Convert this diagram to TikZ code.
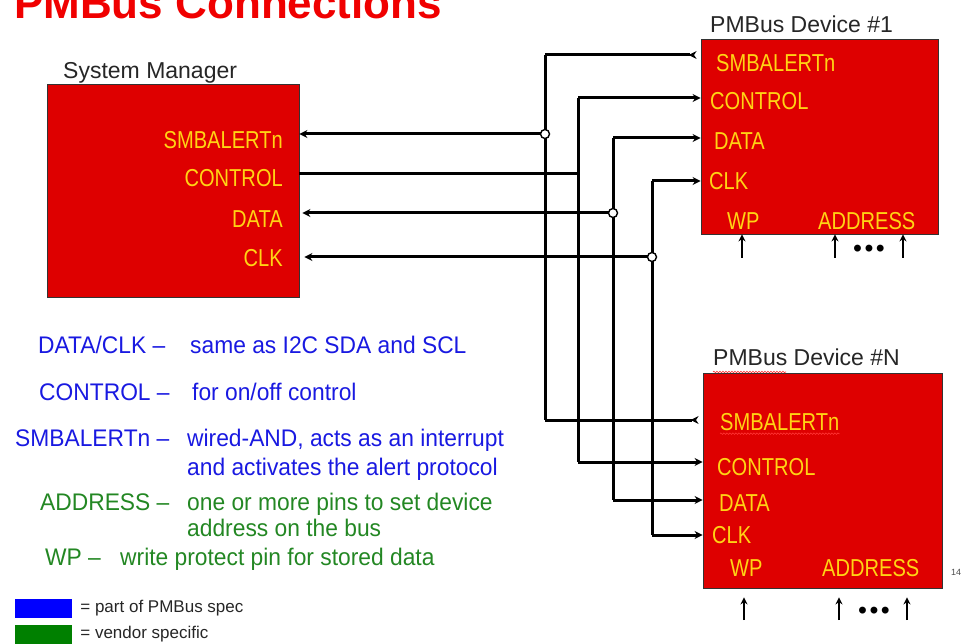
\documentclass[tikz,border=0pt]{standalone}
\usepackage{fontspec}
\setmainfont{Liberation Sans}
\newfontfamily\pinfont[FakeStretch=0.82]{Liberation Sans}
\newfontfamily\legfont[FakeStretch=0.95]{Liberation Sans}
\usetikzlibrary{arrows.meta,positioning,decorations.pathmorphing}

\definecolor{boxred}{RGB}{222,0,0}
\definecolor{titlered}{RGB}{240,0,0}
\definecolor{pinyellow}{RGB}{255,212,20}
\definecolor{specblue}{RGB}{25,25,225}
\definecolor{vendgreen}{RGB}{35,135,35}

\tikzset{
  chip/.style={draw=black!80, line width=0.8pt, fill=boxred, inner sep=0pt},
  heading/.style={text=titlered, font=\bfseries\fontsize{44}{50}\selectfont, inner sep=0pt},
  caption/.style={text=black!85, font=\fontsize{23}{26}\selectfont, inner sep=0pt},
  pinlabel/.style={text=pinyellow, font=\pinfont\fontsize{24.5}{28}\selectfont, inner sep=0pt, text height=17pt, text depth=0pt},
  legtext/.style={font=\legfont\fontsize{24}{28}\selectfont, inner sep=0pt, text height=17pt, text depth=0pt, anchor=west},
  keytext/.style={font=\fontsize{17}{20}\selectfont, text=black!85, inner sep=0pt},
  wire/.style={line width=3pt},
  outtip/.style={-{Stealth[reversed,length=8pt,width=8pt]}},
  pinarrow/.style={line width=2.5pt, -{Stealth[length=7pt,width=7pt]}},
  jdot/.style={circle, draw, line width=1.4pt, fill=white, inner sep=0pt, minimum size=9pt},
  typo/.style={red!80, line width=0.6pt, decorate, decoration={snake, amplitude=0.8pt, segment length=3pt}}
}

\begin{document}
\begin{tikzpicture}[x=1pt,y=-1pt,>={Stealth[length=8pt,width=8pt]}]
\useasboundingbox (0,0) rectangle (964,644);

\node[heading, anchor=base west] (title) at (14,19) {PMBus Connections};

% chips
\node[chip, minimum width=252pt, minimum height=213pt] (sm) at (173,190.5) {};
\node[chip, minimum width=237pt, minimum height=195pt] (dev1) at (819.5,136.5) {};
\node[chip, minimum width=239pt, minimum height=215pt] (devN) at (822.5,480.5) {};

\node[caption, anchor=base west] (smlab) at (63,79) {System Manager};
\node[caption, anchor=base west] (d1lab) at (710,33) {PMBus Device \#1};
\node[caption, anchor=base west] (dNlab) at (713,366) {PMBus Device \#N};

% system manager pins
\node[pinlabel, anchor=east] (smA) at (283,140) {SMBALERTn};
\node[pinlabel, anchor=east] (smC) at (283,178) {CONTROL};
\node[pinlabel, anchor=east] (smD) at (283,219) {DATA};
\node[pinlabel, anchor=east] (smK) at (283,258) {CLK};

% device #1 pins
\node[pinlabel, anchor=west] (d1A) at (716,63) {SMBALERTn};
\node[pinlabel, anchor=west] (d1C) at (710,101) {CONTROL};
\node[pinlabel, anchor=west] (d1D) at (714,141) {DATA};
\node[pinlabel, anchor=west] (d1K) at (709,181) {CLK};
\node[pinlabel, anchor=west] (d1W) at (727,221) {WP};
\node[pinlabel, anchor=west] (d1R) at (818,221) {ADDRESS};

% device #N pins
\node[pinlabel, anchor=west] (dNA) at (720,422) {SMBALERTn};
\node[pinlabel, anchor=west] (dNC) at (717,467) {CONTROL};
\node[pinlabel, anchor=west] (dND) at (719,503) {DATA};
\node[pinlabel, anchor=west] (dNK) at (712,535) {CLK};
\node[pinlabel, anchor=west] (dNW) at (730,568) {WP};
\node[pinlabel, anchor=west] (dNR) at (822,568) {ADDRESS};

\draw[typo] ([yshift=-6pt]dNlab.base west) -- ++(73,0);
\draw[typo] ([yshift=-3pt]dNA.south west) -- ([yshift=-3pt]dNA.south east);

% bus junctions and corners
\coordinate (ja) at (545,134);
\coordinate (ta) at (545,55);
\coordinate (ba) at (545,420);
\coordinate (jc) at (578,174);
\coordinate (tc) at (578,98);
\coordinate (bc) at (578,462);
\coordinate (jd) at (613,213);
\coordinate (td) at (613,138);
\coordinate (bd) at (613,500);
\coordinate (jk) at (652,257);
\coordinate (tk) at (652,181);
\coordinate (bk) at (652,535);

% SMBALERTn
\draw[wire,->] (ja) -- (sm.east |- ja);
\draw[wire] (ta) -- (ba);
\draw[wire,outtip] (ta) -- ([xshift=-4pt]dev1.west |- ta);
\draw[wire,outtip] (ba) -- ([xshift=-4pt]devN.west |- ba);
% CONTROL
\draw[wire] (sm.east |- jc) -- (jc);
\draw[wire] (tc) -- (bc);
\draw[wire,->] (tc) -- (dev1.west |- tc);
\draw[wire,->] (bc) -- (devN.west |- bc);
% DATA
\draw[wire,->] (jd) -- ([xshift=3pt]sm.east |- jd);
\draw[wire] (td) -- (bd);
\draw[wire,->] (td) -- (dev1.west |- td);
\draw[wire,->] (bd) -- (devN.west |- bd);
% CLK
\draw[wire,->] (jk) -- ([xshift=5pt]sm.east |- jk);
\draw[wire] (tk) -- (bk);
\draw[wire,->] (tk) -- (dev1.west |- tk);
\draw[wire,->] (bk) -- (devN.west |- bk);

\node[jdot] (dotA) at (ja) {};
\node[jdot] (dotD) at (jd) {};
\node[jdot] (dotK) at (jk) {};

% strap pins
\coordinate (w1) at (742,258);
\coordinate (a1) at (835,258);
\coordinate (b1) at (903,258);
\draw[pinarrow] (w1) -- (w1 |- dev1.south);
\draw[pinarrow] (a1) -- (a1 |- dev1.south);
\draw[pinarrow] (b1) -- (b1 |- dev1.south);
\node[font=\bfseries\fontsize{24}{26}\selectfont, inner sep=0pt] (more1) at (869,251) {•\hspace{3pt}•\hspace{3pt}•};

\coordinate (wN) at (744,620);
\coordinate (aN) at (839,620);
\coordinate (bN) at (907,620);
\draw[pinarrow] (wN) -- ([yshift=-9pt]wN |- devN.south);
\draw[pinarrow] (aN) -- ([yshift=-9pt]aN |- devN.south);
\draw[pinarrow] (bN) -- ([yshift=-9pt]bN |- devN.south);
\node[font=\bfseries\fontsize{24}{26}\selectfont, inner sep=0pt] (moreN) at (874,613) {•\hspace{3pt}•\hspace{3pt}•};

\node[font=\fontsize{9}{10}\selectfont, text=black!70, inner sep=0pt] (pgno) at (956,572) {14};

% legend
\node[legtext, text=specblue] (kDC) at (38,345) {DATA/CLK –};
\node[legtext, text=specblue] (vDC) at (190,345) {same as I2C SDA and SCL};
\node[legtext, text=specblue] (kC) at (39,392) {CONTROL –};
\node[legtext, text=specblue] (vC) at (192,392) {for on/off control};
\node[legtext, text=specblue] (kA) at (15,438) {SMBALERTn –};
\node[legtext, text=specblue] (vA) at (187,438) {wired-AND, acts as an interrupt};
\node[legtext, text=specblue] (vA2) at (187,467) {and activates the alert protocol};
\node[legtext, text=vendgreen] (kR) at (40,502) {ADDRESS –};
\node[legtext, text=vendgreen] (vR) at (187,502) {one or more pins to set device};
\node[legtext, text=vendgreen] (vR2) at (187,528) {address on the bus};
\node[legtext, text=vendgreen] (kW) at (45,557) {WP –};
\node[legtext, text=vendgreen] (vW) at (120,557) {write protect pin for stored data};

\node[fill=blue, inner sep=0pt, minimum width=57pt, minimum height=19pt] (keyspec) at (43.5,608.5) {};
\node[fill=green!50!black, inner sep=0pt, minimum width=57pt, minimum height=19pt] (keyvend) at (43.5,634.5) {};
\node[keytext, right=8pt of keyspec] (txtspec) {= part of  PMBus spec};
\node[keytext, right=8pt of keyvend] (txtvend) {= vendor specific};
\end{tikzpicture}
\end{document}
